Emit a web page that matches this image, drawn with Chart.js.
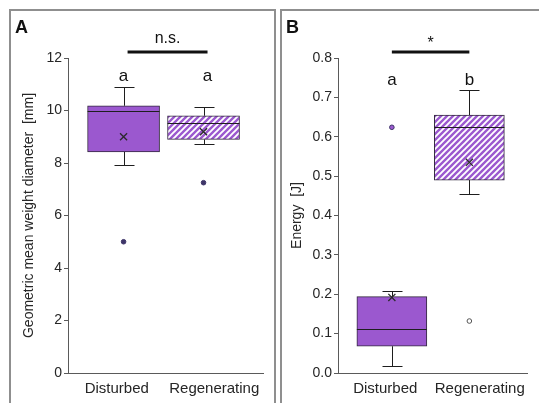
<!DOCTYPE html>
<html>
<head>
<meta charset="utf-8">
<script src="https://cdn.jsdelivr.net/npm/chart.js@4.4.1/dist/chart.umd.min.js"></script>
<style>
  html, body { margin: 0; padding: 0; background: #ffffff; }
  body { width: 539px; height: 403px; position: relative; overflow: hidden; }
  canvas { position: absolute; top: 0; }
  #chartA { left: 0; }
  #chartB { left: 278px; }
  .frame { position: absolute; border: 2px solid #8f8f8f; box-sizing: border-box; pointer-events: none; }
  #frameA { left: 9px; top: 9px; width: 267px; height: 430px; }
  #frameB { left: 280px; top: 9px; width: 300px; height: 430px; }
</style>
</head>
<body>
<canvas id="chartA" width="277" height="403"></canvas>
<canvas id="chartB" width="261" height="403"></canvas>
<div class="frame" id="frameA"></div>
<div class="frame" id="frameB"></div>

<script>
// Groups on the x axis
const groups = ["Disturbed", "Regenerating"];

// Panel A: geometric mean weight diameter [mm]
const mwdMin = [7.93, 8.71];
const mwdQ1 = [8.42, 8.9];
const mwdMedian = [9.98, 9.54];
const mwdQ3 = [10.18, 9.8];
const mwdMax = [10.9, 10.12];
const mwdMean = [9.0, 9.19];
const mwdOutliers = [[5.0], [7.25]];
const mwdLetters = ["a", "a"];
const mwdSignif = "n.s.";
const mwdTicks = [0, 2, 4, 6, 8, 10, 12];

// Panel B: energy [J]
const energyMin = [0.019, 0.454];
const energyQ1 = [0.068, 0.49];
const energyMedian = [0.111, 0.625];
const energyQ3 = [0.194, 0.655];
const energyMax = [0.209, 0.72];
const energyMean = [0.192, 0.535];
const energyOutliers = [[0.624], [0.132]];
const energyLetters = ["a", "b"];
const energySignif = "*";
const energyTicks = [0, 0.1, 0.2, 0.3, 0.4, 0.5, 0.6, 0.7, 0.8];

// Colours
const PURPLE = "#9b58cf";
const DARK = "#262626";
const AXIS = "#5a5a5a";

// Boxes sit a little off the label centres (Excel layout)
const BOX_SHIFT = [0.07, -0.11];

Chart.defaults.font.family = "'Liberation Sans', Arial, sans-serif";
Chart.defaults.color = DARK;

// Diagonal white hatching for the "Regenerating" boxes
function makeHatch() {
  const size = 6;
  const c = document.createElement("canvas");
  c.width = size;
  c.height = size;
  const g = c.getContext("2d");
  g.fillStyle = PURPLE;
  g.fillRect(0, 0, size, size);
  g.strokeStyle = "#ffffff";
  g.lineWidth = 1.9;
  g.beginPath();
  g.moveTo(-1, size + 1);
  g.lineTo(size + 1, -1);
  g.moveTo(-1, 1);
  g.lineTo(1, -1);
  g.moveTo(size - 1, size + 1);
  g.lineTo(size + 1, size - 1);
  g.stroke();
  return g.createPattern(c, "repeat");
}
const HATCH = makeHatch();

function boxX(i) {
  return i + 0.5 + BOX_SHIFT[i];
}

// Build one panel
function makePanel(canvasId, p) {
  const outlierPts = [];
  const outlierFill = [];
  const outlierEdge = [];
  p.outliers.forEach((list, i) => {
    list.forEach((v) => {
      outlierPts.push({ x: boxX(i), y: v });
      outlierFill.push(p.outlierFill[i]);
      outlierEdge.push(p.outlierEdge[i]);
    });
  });

  // whiskers, medians and the annotations above the plot
  const extras = {
    id: "boxExtras",
    afterDatasetDraw(chart, args) {
      if (args.meta.type !== "bar") return;
      const y = chart.scales.y;
      const ctx = chart.ctx;
      ctx.save();
      ctx.strokeStyle = "#1e1e1e";
      ctx.lineWidth = 1;
      args.meta.data.forEach((bar, i) => {
        const cx = Math.round(bar.x) + 0.5;
        const half = bar.width / 2;
        const cap = 10;
        const yMed = Math.round(y.getPixelForValue(p.median[i])) + 0.5;
        const yQ1 = y.getPixelForValue(p.q1[i]);
        const yQ3 = y.getPixelForValue(p.q3[i]);
        const yMin = Math.round(y.getPixelForValue(p.min[i])) + 0.5;
        const yMax = Math.round(y.getPixelForValue(p.max[i])) + 0.5;
        ctx.beginPath();
        ctx.moveTo(bar.x - half, yMed);
        ctx.lineTo(bar.x + half, yMed);
        ctx.moveTo(cx, yQ3);
        ctx.lineTo(cx, yMax);
        ctx.moveTo(cx - cap, yMax);
        ctx.lineTo(cx + cap, yMax);
        ctx.moveTo(cx, yQ1);
        ctx.lineTo(cx, yMin);
        ctx.moveTo(cx - cap, yMin);
        ctx.lineTo(cx + cap, yMin);
        ctx.stroke();
      });
      ctx.restore();
    },
    afterDraw(chart) {
      const ctx = chart.ctx;
      const top = chart.chartArea.top;
      const bars = chart.getDatasetMeta(2).data;
      ctx.save();
      ctx.fillStyle = "#111111";
      // panel letter
      ctx.font = "bold 18px 'Liberation Sans', Arial, sans-serif";
      ctx.textAlign = "left";
      ctx.textBaseline = "alphabetic";
      ctx.fillText(p.panel, p.panelX, 33);
      // significance bar
      const x1 = bars[0].x + p.sigShift;
      const x2 = bars[1].x + p.sigShift;
      ctx.strokeStyle = "#111111";
      ctx.lineWidth = 3;
      ctx.beginPath();
      ctx.moveTo(x1, top - 6);
      ctx.lineTo(x2, top - 6);
      ctx.stroke();
      ctx.textAlign = "center";
      ctx.font = "16px 'Liberation Sans', Arial, sans-serif";
      ctx.fillText(p.signif, (x1 + x2) / 2, top + p.signifDy);
      // group letters
      ctx.font = "17px 'Liberation Sans', Arial, sans-serif";
      bars.forEach((bar, i) => {
        ctx.fillText(p.letters[i], bar.x + (i ? p.sigShift : 0), top + p.letterDy);
      });
      ctx.restore();
    },
  };

  return new Chart(document.getElementById(canvasId), {
    type: "bar",
    data: {
      datasets: [
        {
          type: "scatter",
          label: "Mean",
          data: p.mean.map((m, i) => ({ x: boxX(i), y: m })),
          pointStyle: "crossRot",
          pointRadius: 5,
          borderColor: "#2a2a2a",
          borderWidth: 1.3,
        },
        {
          type: "scatter",
          label: "Outliers",
          data: outlierPts,
          pointStyle: "circle",
          pointRadius: 2.3,
          backgroundColor: outlierFill,
          borderColor: outlierEdge,
          borderWidth: 1,
        },
        {
          type: "bar",
          label: "Box",
          data: p.q1.map((q, i) => ({ x: boxX(i), y: [q, p.q3[i]] })),
          backgroundColor: [PURPLE, HATCH],
          borderColor: "#33283f",
          borderWidth: 1,
          borderSkipped: false,
          barThickness: p.boxWidth,
          grouped: false,
        },
      ],
    },
    options: {
      responsive: false,
      animation: false,
      events: [],
      layout: {
        padding: { top: 58, right: p.padRight, bottom: 0, left: 0 },
      },
      plugins: {
        legend: { display: false },
        tooltip: { enabled: false },
      },
      scales: {
        x: {
          type: "linear",
          min: 0,
          max: 2,
          offset: false,
          grid: { display: false, drawTicks: false, offset: false },
          border: { display: true, color: AXIS, width: 1 },
          afterBuildTicks: (scale) => {
            scale.ticks = groups.map((g, i) => ({ value: i + 0.5 }));
          },
          afterFit: (scale) => {
            scale.height = 30;
          },
          ticks: {
            padding: 7,
            maxRotation: 0,
            autoSkip: false,
            color: DARK,
            font: { size: 15 },
            callback: (value) => groups[Math.floor(value)],
          },
        },
        y: {
          type: "linear",
          min: p.ticks[0],
          max: p.ticks[p.ticks.length - 1],
          grid: {
            display: true,
            drawOnChartArea: false,
            drawTicks: true,
            tickLength: 4,
            color: AXIS,
          },
          border: { display: true, color: AXIS, width: 1 },
          afterBuildTicks: (scale) => {
            scale.ticks = p.ticks.map((v) => ({ value: v }));
          },
          afterFit: (scale) => {
            scale.width = p.axisWidth;
          },
          ticks: {
            padding: 2,
            color: DARK,
            font: { size: 14 },
            callback: (value) => value.toFixed(p.decimals),
          },
          title: {
            display: true,
            text: p.title,
            color: DARK,
            font: { size: 14 },
            padding: { top: p.titlePad, bottom: 0 },
          },
        },
      },
    },
    plugins: [extras],
  });
}

makePanel("chartA", {
  panel: "A",
  panelX: 15,
  title: "Geometric mean weight diameter  [mm]",
  titlePad: 21,
  axisWidth: 68,
  padRight: 14,
  boxWidth: 72,
  decimals: 0,
  ticks: mwdTicks,
  min: mwdMin,
  q1: mwdQ1,
  median: mwdMedian,
  q3: mwdQ3,
  max: mwdMax,
  mean: mwdMean,
  outliers: mwdOutliers,
  outlierFill: ["#3e3568", "#3e3568"],
  outlierEdge: ["#3e3568", "#3e3568"],
  letters: mwdLetters,
  signif: mwdSignif,
  signifDy: -15,
  letterDy: 23,
  sigShift: 4,
});

makePanel("chartB", {
  panel: "B",
  panelX: 8,
  title: "Energy  [J]",
  titlePad: 11,
  axisWidth: 60,
  padRight: 12,
  boxWidth: 70,
  decimals: 1,
  ticks: energyTicks,
  min: energyMin,
  q1: energyQ1,
  median: energyMedian,
  q3: energyQ3,
  max: energyMax,
  mean: energyMean,
  outliers: energyOutliers,
  outlierFill: [PURPLE, "#ffffff"],
  outlierEdge: ["#3e3568", "#555555"],
  letters: energyLetters,
  signif: energySignif,
  signifDy: -10,
  letterDy: 27,
  sigShift: 0,
});
</script>
</body>
</html>
